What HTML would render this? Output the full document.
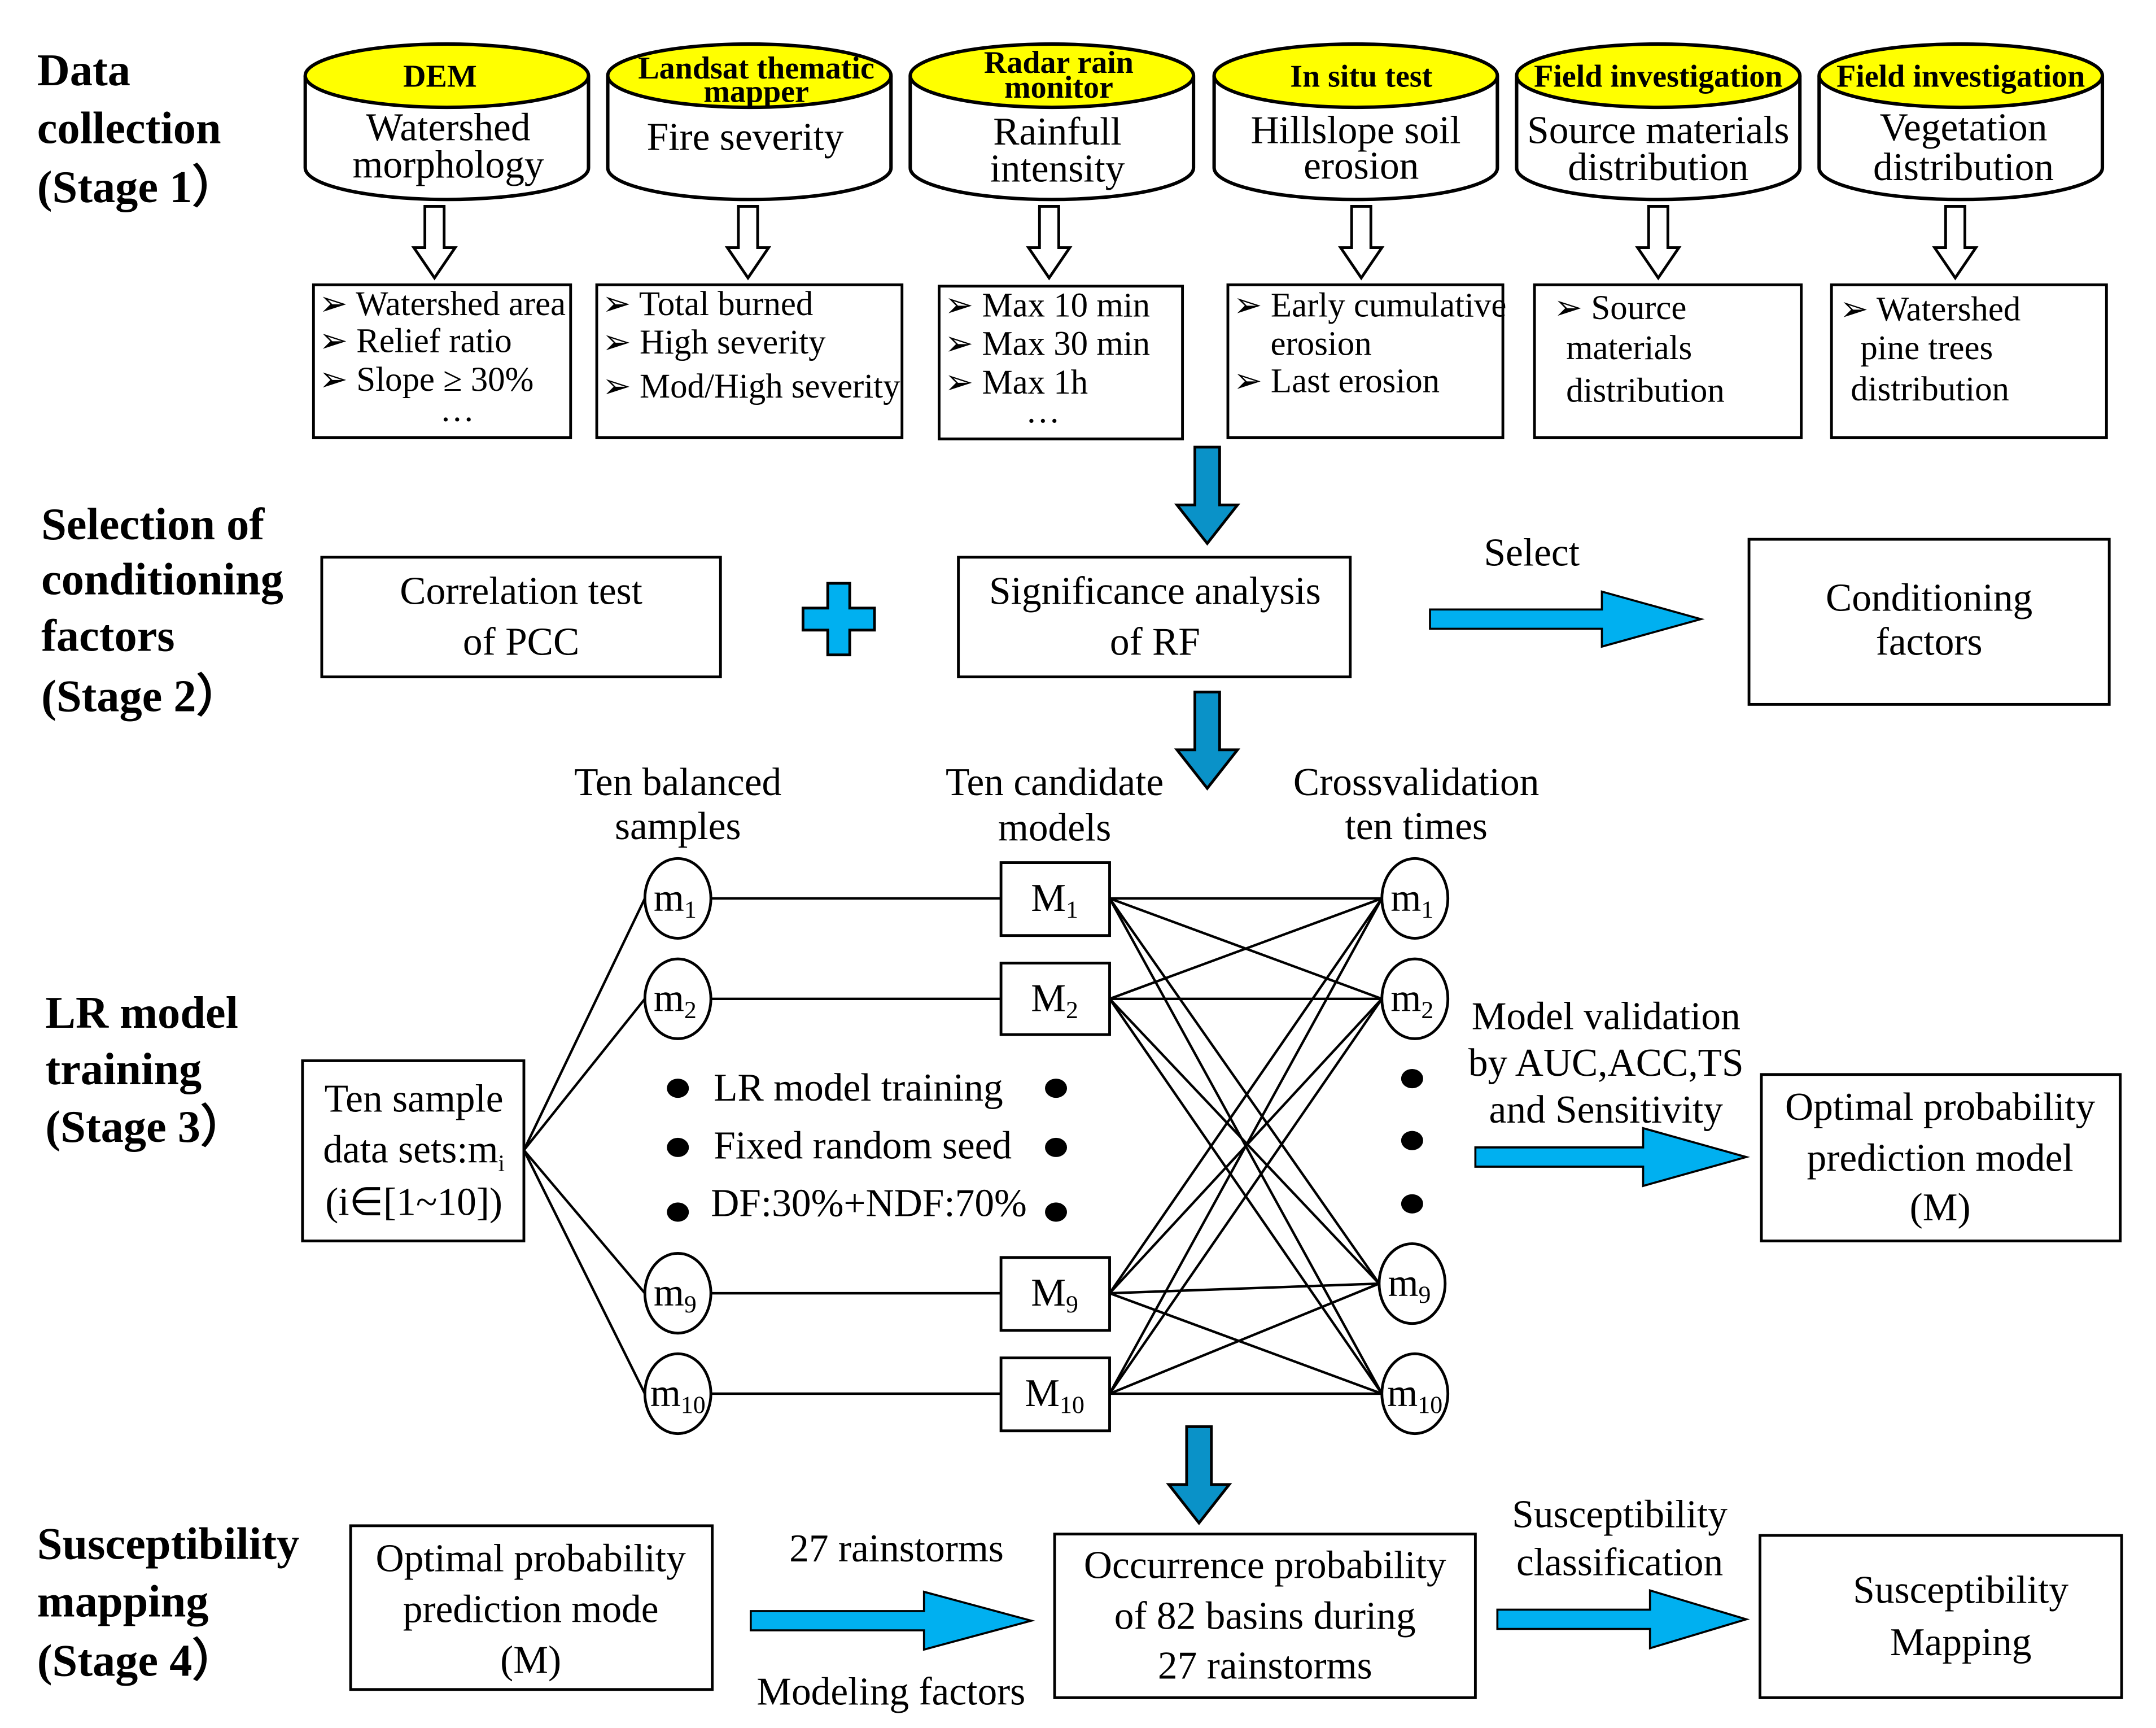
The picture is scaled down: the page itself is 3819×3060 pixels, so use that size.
<!DOCTYPE html>
<html><head><meta charset="utf-8"><style>
html,body{margin:0;padding:0;background:#fff;}
svg{display:block;}
text{font-family:"Liberation Serif","Times New Roman",serif;fill:#000;}
.st{font-weight:bold;font-size:33px;}
.t{font-size:28.5px;}
.s{font-size:25px;}
.yb{font-weight:bold;font-size:23px;}
</style></head><body>
<svg width="3819" height="3060" viewBox="0 0 1568 1256" preserveAspectRatio="none" xmlns="http://www.w3.org/2000/svg">
<defs>
<g id="cyl">
<path d="M0,55 L0,122 A103,23 0 0 0 206,122 L206,55" fill="#fff" stroke="#000" stroke-width="2.5"/>
<ellipse cx="103" cy="55" rx="103" ry="23" fill="#ffff00" stroke="#000" stroke-width="2.5"/>
</g>
<g id="harr">
<path d="M-7,0 L7,0 L7,30 L15,30 L0,52 L-15,30 L-7,30 Z" fill="#fff" stroke="#000" stroke-width="2"/>
</g>
<g id="barr">
<path d="M-9,0 L9,0 L9,42 L22,42 L0,70 L-22,42 L-9,42 Z" fill="#0a92c8" stroke="#000" stroke-width="2"/>
</g>
</defs>

<!-- Stage labels -->
<text class="st" x="27" y="62">Data</text>
<text class="st" x="27" y="104">collection</text>
<text class="st" x="27" y="147">(Stage 1）</text>
<text class="st" x="30" y="392">Selection of</text>
<text class="st" x="30" y="432">conditioning</text>
<text class="st" x="30" y="473">factors</text>
<text class="st" x="30" y="517">(Stage 2）</text>
<text class="st" x="33" y="747">LR model</text>
<text class="st" x="33" y="788">training</text>
<text class="st" x="33" y="830">(Stage 3）</text>
<text class="st" x="27" y="1133">Susceptibility</text>
<text class="st" x="27" y="1175">mapping</text>
<text class="st" x="27" y="1218">(Stage 4）</text>

<!-- Cylinders -->
<use href="#cyl" x="222" y="0"/>
<use href="#cyl" x="442" y="0"/>
<use href="#cyl" x="662" y="0"/>
<use href="#cyl" x="883" y="0"/>
<use href="#cyl" x="1103" y="0"/>
<use href="#cyl" x="1323" y="0"/>
<g text-anchor="middle">
<text class="yb" x="320" y="63">DEM</text>
<text class="yb" x="550" y="57">Landsat thematic</text>
<text class="yb" x="550" y="74">mapper</text>
<text class="yb" x="770" y="53">Radar rain</text>
<text class="yb" x="770" y="71">monitor</text>
<text class="yb" x="990" y="63">In situ test</text>
<text class="yb" x="1206" y="63">Field investigation</text>
<text class="yb" x="1426" y="63">Field investigation</text>
<text class="t" x="326" y="102">Watershed</text>
<text class="t" x="326" y="129">morphology</text>
<text class="t" x="542" y="109">Fire severity</text>
<text class="t" x="769" y="105">Rainfull</text>
<text class="t" x="769" y="132">intensity</text>
<text class="t" x="986" y="104">Hillslope soil</text>
<text class="t" x="990" y="130">erosion</text>
<text class="t" x="1206" y="104">Source materials</text>
<text class="t" x="1206" y="131">distribution</text>
<text class="t" x="1428" y="102">Vegetation</text>
<text class="t" x="1428" y="131">distribution</text>
</g>

<use href="#harr" x="316" y="150"/>
<use href="#harr" x="544" y="150"/>
<use href="#harr" x="763" y="150"/>
<use href="#harr" x="990" y="150"/>
<use href="#harr" x="1206" y="150"/>
<use href="#harr" x="1422" y="150"/>

<!-- Boxes row 1 -->
<g fill="#fff" stroke="#000" stroke-width="2">
<rect x="228" y="207" width="187" height="111"/>
<rect x="434" y="207" width="222" height="111"/>
<rect x="683" y="208" width="177" height="111"/>
<rect x="893" y="207" width="200" height="111"/>
<rect x="1116" y="207" width="194" height="111"/>
<rect x="1332" y="207" width="200" height="111"/>
</g>
<g>
<text class="s" x="232" y="229">➢ Watershed area</text>
<text class="s" x="232" y="256">➢ Relief ratio</text>
<text class="s" x="232" y="284">➢ Slope ≥ 30%</text>
<text class="s" x="320" y="306">…</text>
<text class="s" x="438" y="229">➢ Total burned</text>
<text class="s" x="438" y="257">➢ High severity</text>
<text class="s" x="438" y="289">➢ Mod/High severity</text>
<text class="s" x="687" y="230">➢ Max 10 min</text>
<text class="s" x="687" y="258">➢ Max 30 min</text>
<text class="s" x="687" y="286">➢ Max 1h</text>
<text class="s" x="746" y="307">…</text>
<text class="s" x="897" y="230">➢ Early cumulative</text>
<text class="s" x="924" y="258">erosion</text>
<text class="s" x="897" y="285">➢ Last erosion</text>
<text class="s" x="1130" y="232">➢  Source</text>
<text class="s" x="1139" y="261">materials</text>
<text class="s" x="1139" y="292">distribution</text>
<text class="s" x="1338" y="233">➢ Watershed</text>
<text class="s" x="1353" y="261">pine trees</text>
<text class="s" x="1346" y="291">distribution</text>
</g>

<use href="#barr" x="878" y="325"/>

<!-- Stage 2 -->
<g fill="#fff" stroke="#000" stroke-width="2">
<rect x="234" y="405" width="290" height="87"/>
<rect x="697" y="405" width="285" height="87"/>
<rect x="1272" y="392" width="262" height="120"/>
</g>
<path d="M602,424 L618,424 L618,442 L636,442 L636,458 L618,458 L618,476 L602,476 L602,458 L584,458 L584,442 L602,442 Z" fill="#00b0f0" stroke="#000" stroke-width="2"/>
<g text-anchor="middle">
<text class="t" x="379" y="439">Correlation test</text>
<text class="t" x="379" y="476">of PCC</text>
<text class="t" x="840" y="439">Significance analysis</text>
<text class="t" x="840" y="476">of RF</text>
<text class="t" x="1114" y="411">Select</text>
<text class="t" x="1403" y="444">Conditioning</text>
<text class="t" x="1403" y="476">factors</text>
</g>
<path d="M1040,443 L1165,443 L1165,430 L1237,450 L1165,470 L1165,457 L1040,457 Z" fill="#00b0f0" stroke="#000" stroke-width="1.5"/>

<use href="#barr" x="878" y="503"/>

<!-- Stage 3 -->
<g text-anchor="middle">
<text class="t" x="493" y="578">Ten balanced</text>
<text class="t" x="493" y="610">samples</text>
<text class="t" x="767" y="578">Ten candidate</text>
<text class="t" x="767" y="611">models</text>
<text class="t" x="1030" y="578">Crossvalidation</text>
<text class="t" x="1030" y="610">ten times</text>
</g>
<g stroke="#000" stroke-width="1.8" fill="none">
<line x1="381" y1="836" x2="469" y2="653"/>
<line x1="381" y1="836" x2="469" y2="726"/>
<line x1="381" y1="836" x2="469" y2="940"/>
<line x1="381" y1="836" x2="469" y2="1013"/>
<line x1="517" y1="653" x2="728" y2="653"/>
<line x1="517" y1="726" x2="728" y2="726"/>
<line x1="517" y1="940" x2="728" y2="940"/>
<line x1="517" y1="1013" x2="728" y2="1013"/>
<line x1="807" y1="653" x2="1005" y2="653"/><line x1="807" y1="653" x2="1005" y2="726"/><line x1="807" y1="653" x2="1003" y2="933"/><line x1="807" y1="653" x2="1005" y2="1013"/>
<line x1="807" y1="726" x2="1005" y2="653"/><line x1="807" y1="726" x2="1005" y2="726"/><line x1="807" y1="726" x2="1003" y2="933"/><line x1="807" y1="726" x2="1005" y2="1013"/>
<line x1="807" y1="940" x2="1005" y2="653"/><line x1="807" y1="940" x2="1005" y2="726"/><line x1="807" y1="940" x2="1003" y2="933"/><line x1="807" y1="940" x2="1005" y2="1013"/>
<line x1="807" y1="1013" x2="1005" y2="653"/><line x1="807" y1="1013" x2="1005" y2="726"/><line x1="807" y1="1013" x2="1003" y2="933"/><line x1="807" y1="1013" x2="1005" y2="1013"/>
</g>
<g fill="#fff" stroke="#000" stroke-width="2">
<rect x="220" y="771" width="161" height="131"/>
<ellipse cx="493" cy="653" rx="24" ry="29"/>
<ellipse cx="493" cy="726" rx="24" ry="29"/>
<ellipse cx="493" cy="940" rx="24" ry="29"/>
<ellipse cx="493" cy="1013" rx="24" ry="29"/>
<rect x="728" y="627" width="79" height="53"/>
<rect x="728" y="700" width="79" height="52"/>
<rect x="728" y="914" width="79" height="53"/>
<rect x="728" y="987" width="79" height="53"/>
<ellipse cx="1029" cy="653" rx="24" ry="29"/>
<ellipse cx="1029" cy="726" rx="24" ry="29"/>
<ellipse cx="1027" cy="933" rx="24" ry="29"/>
<ellipse cx="1029" cy="1013" rx="24" ry="29"/>
</g>
<g text-anchor="middle">
<text class="t" x="301" y="808">Ten sample</text>
<text class="t" x="301" y="845">data sets:m<tspan font-size="17" dy="6">i</tspan></text>
<text class="t" x="301" y="883">(i∈[1~10])</text>
<text class="t" x="491" y="662">m<tspan font-size="18" dy="5">1</tspan></text>
<text class="t" x="491" y="735">m<tspan font-size="18" dy="5">2</tspan></text>
<text class="t" x="491" y="949">m<tspan font-size="18" dy="5">9</tspan></text>
<text class="t" x="493" y="1022">m<tspan font-size="18" dy="5">10</tspan></text>
<text class="t" x="767" y="662">M<tspan font-size="18" dy="5">1</tspan></text>
<text class="t" x="767" y="735">M<tspan font-size="18" dy="5">2</tspan></text>
<text class="t" x="767" y="949">M<tspan font-size="18" dy="5">9</tspan></text>
<text class="t" x="767" y="1022">M<tspan font-size="18" dy="5">10</tspan></text>
<text class="t" x="1027" y="662">m<tspan font-size="18" dy="5">1</tspan></text>
<text class="t" x="1027" y="735">m<tspan font-size="18" dy="5">2</tspan></text>
<text class="t" x="1025" y="942">m<tspan font-size="18" dy="5">9</tspan></text>
<text class="t" x="1029" y="1022">m<tspan font-size="18" dy="5">10</tspan></text>
</g>
<g fill="#000">
<ellipse cx="493" cy="791" rx="8" ry="7"/><ellipse cx="493" cy="834" rx="8" ry="7"/><ellipse cx="493" cy="881" rx="8" ry="7"/>
<ellipse cx="768" cy="791" rx="8" ry="7"/><ellipse cx="768" cy="834" rx="8" ry="7"/><ellipse cx="768" cy="881" rx="8" ry="7"/>
<ellipse cx="1027" cy="784" rx="8" ry="7"/><ellipse cx="1027" cy="829" rx="8" ry="7"/><ellipse cx="1027" cy="875" rx="8" ry="7"/>
</g>
<text class="t" x="519" y="800">LR model training</text>
<text class="t" x="519" y="842">Fixed random seed</text>
<text class="t" x="517" y="884">DF:30%+NDF:70%</text>
<g text-anchor="middle">
<text class="t" x="1168" y="748">Model validation</text>
<text class="t" x="1168" y="782">by AUC,ACC,TS</text>
<text class="t" x="1168" y="816">and Sensitivity</text>
</g>
<path d="M1073,834 L1195,834 L1195,820 L1270,841 L1195,862 L1195,848 L1073,848 Z" fill="#00b0f0" stroke="#000" stroke-width="1.5"/>
<rect x="1281" y="781" width="261" height="121" fill="#fff" stroke="#000" stroke-width="2"/>
<g text-anchor="middle">
<text class="t" x="1411" y="814">Optimal probability</text>
<text class="t" x="1411" y="851">prediction model</text>
<text class="t" x="1411" y="887">(M)</text>
</g>

<use href="#barr" x="872" y="1037"/>

<!-- Stage 4 -->
<g fill="#fff" stroke="#000" stroke-width="2">
<rect x="255" y="1109" width="263" height="119"/>
<rect x="767" y="1115" width="306" height="119"/>
<rect x="1280" y="1116" width="263" height="118"/>
</g>
<g text-anchor="middle">
<text class="t" x="386" y="1142">Optimal probability</text>
<text class="t" x="386" y="1179">prediction mode</text>
<text class="t" x="386" y="1216">(M)</text>
<text class="t" x="652" y="1135">27 rainstorms</text>
<text class="t" x="648" y="1239">Modeling factors</text>
<text class="t" x="920" y="1147">Occurrence probability</text>
<text class="t" x="920" y="1184">of 82 basins during</text>
<text class="t" x="920" y="1220">27 rainstorms</text>
<text class="t" x="1178" y="1110">Susceptibility</text>
<text class="t" x="1178" y="1145">classification</text>
<text class="t" x="1426" y="1165">Susceptibility</text>
<text class="t" x="1426" y="1203">Mapping</text>
</g>
<path d="M546,1171 L672,1171 L672,1157 L750,1178 L672,1199 L672,1185 L546,1185 Z" fill="#00b0f0" stroke="#000" stroke-width="1.5"/>
<path d="M1089,1170 L1200,1170 L1200,1156 L1270,1177 L1200,1198 L1200,1184 L1089,1184 Z" fill="#00b0f0" stroke="#000" stroke-width="1.5"/>
</svg>
</body></html>
